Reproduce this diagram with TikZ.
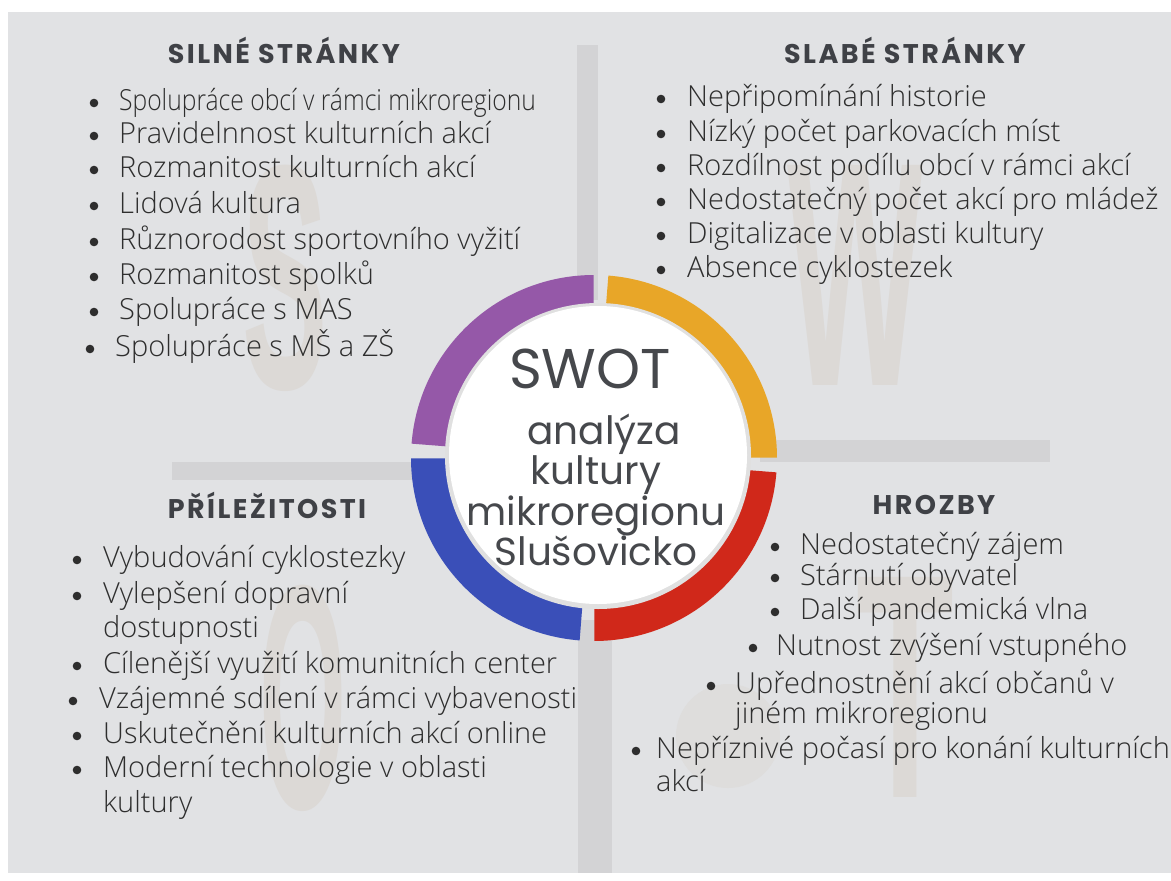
\documentclass[tikz,border=0pt]{standalone}
\usepackage{fontspec}
\setmainfont{Open Sans}
\newfontfamily\lehke{Open Sans Light}
\newfontfamily\nadpisfont[LetterSpace=9]{Poppins}
\newfontfamily\kruhfont{Poppins}
\newfontfamily\pozadifont{Liberation Sans}

\definecolor{pozadi}{HTML}{E1E2E4}
\definecolor{pruh}{HTML}{D3D3D5}
\definecolor{pismeno}{HTML}{DCD9D6}
\definecolor{textgray}{HTML}{2E2E2E}
\definecolor{nadpisgray}{HTML}{3F4146}
\definecolor{kruhgray}{HTML}{46484C}
\definecolor{swotpurple}{HTML}{9558A8}
\definecolor{swotorange}{HTML}{E8A628}
\definecolor{swotred}{HTML}{D0281A}
\definecolor{swotblue}{HTML}{3A4FB8}

\tikzset{
  polozka/.style={anchor=west, inner sep=0pt, text=textgray,
    font=\lehke\fontsize{29}{31}\selectfont, text height=21pt, text depth=6pt},
  nadpis/.style={inner sep=0pt, text=nadpisgray,
    font=\nadpisfont\bfseries\fontsize{27}{29}\selectfont},
  velke/.style={inner sep=0pt, text=pismeno,
    font=\pozadifont\bfseries\fontsize{320}{320}\selectfont},
}

\begin{document}
\begin{tikzpicture}[x=1pt, y=-1pt]
    \useasboundingbox (0,0) rectangle (1171,881);
    \fill[white] (0,0) rectangle (1171,881);
    \fill[pozadi] (8,12) rectangle (1171,873);
    % pismena v pozadi
    \node[velke] (bgS) at (285,278) {\scalebox{0.4}[1]{S}};
    \node[velke] (bgW) at (855,275) {\scalebox{0.45}[1]{W}};
    \node[velke] (bgO) at (303,698) {\scalebox{0.35}[1]{O}};
    \node[velke] (bgT) at (905,687) {\scalebox{0.5}[1]{T}};
    \fill[pismeno!60!pozadi] (728,736) circle (52);
    % pruhy
    \fill[pruh] (577,45) rectangle (598,300);
    \fill[pruh] (760,440) rectangle (1050,462);
    \fill[pruh] (172,462) rectangle (430,480);
    \fill[pruh] (578,620) rectangle (612,873);
    % kruh
    \begin{scope}[shift={(594,458)}]
      \fill[swotred] (4.5:183) arc[start angle=4.5, end angle=89.9, radius=183]
        -- (89.9:146) arc[start angle=89.9, end angle=4.5, radius=146] -- cycle;
      \fill[swotblue] (94.5:183) arc[start angle=94.5, end angle=179.9, radius=183]
        -- (179.9:146) arc[start angle=179.9, end angle=94.5, radius=146] -- cycle;
      \fill[swotpurple] (184.5:183) arc[start angle=184.5, end angle=269.9, radius=183]
        -- (269.9:146) arc[start angle=269.9, end angle=184.5, radius=146] -- cycle;
      \fill[swotorange] (274.5:183) arc[start angle=274.5, end angle=359.9, radius=183]
        -- (359.9:146) arc[start angle=359.9, end angle=274.5, radius=146] -- cycle;
    \end{scope}
    \node[circle, fill=black!12, minimum size=306pt, inner sep=0pt] (stin) at (598,456) {};
    \node[circle, fill=white, minimum size=298pt, inner sep=0pt] (stred) at (598,455) {};
    \node[text=kruhgray, font=\kruhfont\fontsize{56}{60}\selectfont] (swot) at (590,369) {SWOT};
    \node[text=kruhgray, font=\kruhfont\fontsize{39}{40.5}\selectfont, align=center,
      anchor=north] (nazev) at (596,410) {\hspace*{16pt}analýza\\kultury\\mikroregionu\\Slušovicko};

    % S
    \node[nadpis] (hS) at (284,50) {SILNÉ STRÁNKY};
    \node[polozka] (s1) at (119,103) {\scalebox{0.85}[1]{Spolupráce obcí v rámci mikroregionu}};
    \node[polozka] (s2) at (119,136) {Pravidelnnost kulturních akcí};
    \node[polozka] (s3) at (119,170) {Rozmanitost kulturních akcí};
    \node[polozka] (s4) at (119,206) {Lidová kultura};
    \node[polozka] (s5) at (119,242) {Různorodost sportovního vyžití};
    \node[polozka] (s6) at (119,277) {Rozmanitost spolků};
    \node[polozka] (s7) at (119,312) {Spolupráce s MAS};
    \node[polozka] (s8) at (115,349) {Spolupráce s MŠ a ZŠ};
    \fill[textgray] (94,103) circle (4.3) (94,136) circle (4.3) (94,170) circle (4.3)
      (94,206) circle (4.3) (94,242) circle (4.3) (94,277) circle (4.3)
      (94,312) circle (4.3) (90,349) circle (4.3);

    % W
    \node[nadpis] (hW) at (905,50) {SLABÉ STRÁNKY};
    \node[polozka] (w1) at (687,99) {Nepřipomínání historie};
    \node[polozka] (w2) at (687,134) {Nízký počet parkovacích míst};
    \node[polozka] (w3) at (687,168) {Rozdílnost podílu obcí v rámci akcí};
    \node[polozka] (w4) at (687,202) {Nedostatečný počet akcí pro mládež};
    \node[polozka] (w5) at (687,236) {Digitalizace v oblasti kultury};
    \node[polozka] (w6) at (687,270) {Absence cyklostezek};
    \fill[textgray] (661,99) circle (4.3) (661,134) circle (4.3) (661,168) circle (4.3)
      (661,202) circle (4.3) (661,236) circle (4.3) (661,270) circle (4.3);

    % O
    \node[nadpis] (hO) at (267,505) {PŘÍLEŽITOSTI};
    \node[polozka] (o1) at (103,560) {Vybudování cyklostezky};
    \node[polozka] (o2) at (103,596) {Vylepšení dopravní};
    \node[polozka] (o2b) at (103,630) {dostupnosti};
    \node[polozka] (o3) at (103,666) {Cílenější využití komunitních center};
    \node[polozka] (o4) at (99,701) {Vzájemné sdílení v rámci vybavenosti};
    \node[polozka] (o5) at (103,736) {Uskutečnění kulturních akcí online};
    \node[polozka] (o6) at (103,770) {Moderní technologie v oblasti};
    \node[polozka] (o6b) at (103,805) {kultury};
    \fill[textgray] (77,560) circle (4.3) (77,596) circle (4.3) (77,666) circle (4.3)
      (73,701) circle (4.3) (77,736) circle (4.3) (77,770) circle (4.3);

    % T
    \node[nadpis] (hT) at (934,505) {HROZBY};
    \node[polozka] (t1) at (800,547) {Nedostatečný zájem};
    \node[polozka] (t2) at (800,578) {Stárnutí obyvatel};
    \node[polozka] (t3) at (800,612) {Další pandemická vlna};
    \node[polozka] (t4) at (776,648) {Nutnost zvýšení vstupného};
    \node[polozka] (t5) at (735,686) {Upřednostnění akcí občanů v};
    \node[polozka] (t5b) at (735,716) {jiném mikroregionu};
    \node[polozka] (t6) at (656,751) {Nepříznivé počasí pro konání kulturních};
    \node[polozka] (t6b) at (656,784) {akcí};
    \fill[textgray] (775,547) circle (4.3) (775,578) circle (4.3) (775,612) circle (4.3)
      (753,648) circle (4.3) (711,686) circle (4.3) (636,751) circle (4.3);
\end{tikzpicture}
\end{document}
